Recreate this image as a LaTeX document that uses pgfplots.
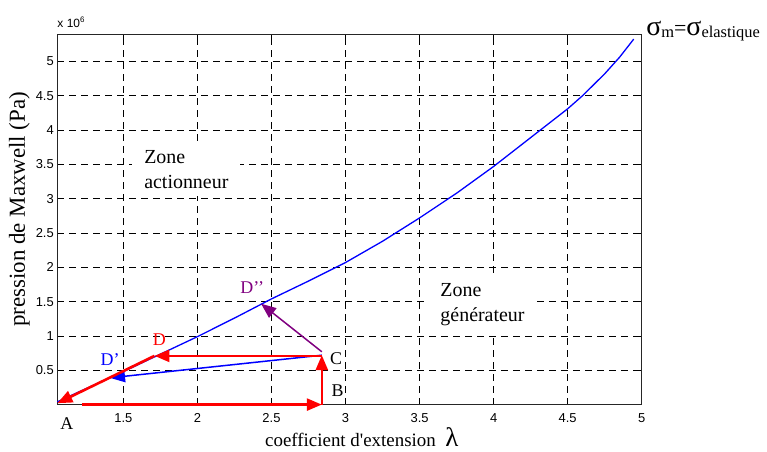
\documentclass[border=0pt]{standalone}
\usepackage{fontspec}
\setmainfont{Liberation Serif}
\setsansfont{Liberation Sans}
\usepackage{pgfplots}
\pgfplotsset{compat=1.18}
\usetikzlibrary{arrows.meta}
\definecolor{mpurple}{RGB}{128,0,128}
\begin{document}
\begin{tikzpicture}
\useasboundingbox (-57.3bp,-47.4bp) rectangle (709.7bp,404.6bp);
\begin{axis}[
  at={(0,0)}, anchor=south west,
  scale only axis, width=584.4bp, height=370.6bp,
  xmin=1.054, xmax=5, ymin=0, ymax=5.4,
  xtick={1.5,2,2.5,3,3.5,4,4.5,5},
  ytick={0.5,1,1.5,2,2.5,3,3.5,4,4.5,5},
  xticklabels={1.5,2,2.5,3,3.5,4,4.5,5},
  yticklabels={0.5,1,1.5,2,2.5,3,3.5,4,4.5,5},
  tick align=inside, major tick length=5bp,
  grid=major,
  major grid style={black, line width=0.7bp, dash pattern=on 6.5bp off 5.5bp},
  axis line style={line width=1bp, black!85},
  tick style={line width=0.8bp, black},
  clip=false,
  /pgf/number format/assume math mode=true,
  ticklabel style={font=\sffamily\fontsize{13}{13}\selectfont},
  xticklabel style={yshift=-5bp},
  xlabel={coefficient d\textquotesingle extension\ \ {\fontsize{27}{27}\selectfont λ}},
  xlabel style={at={(axis description cs:0.521,0)}, anchor=base, yshift=-42bp, font=\fontsize{19}{19}\selectfont, inner sep=0pt},
  ylabel={pression de Maxwell (Pa)},
  ylabel style={at={(axis description cs:-0.0553,0.527)}, anchor=base, font=\fontsize{23}{23}\selectfont, inner sep=0pt},
]
% Maxwell pressure curve (x 10^6 Pa)
\addplot[blue, line width=1.3bp] coordinates {
 (1.054,0.04) (1.25,0.235) (1.41,0.39) (1.5,0.48) (1.71,0.695) (1.75,0.735)
 (2.0,0.99) (2.25,1.26) (2.5,1.54) (2.75,1.80) (3.0,2.07) (3.25,2.38)
 (3.5,2.72) (3.75,3.08) (4.0,3.47) (4.25,3.89) (4.5,4.31) (4.6,4.50)
 (4.75,4.82) (4.85,5.06) (4.946,5.325)
};
% C -> D'
\addplot[blue, line width=1.5bp, -{Triangle[length=15bp,width=12bp]}] coordinates {(2.84,0.72) (1.41,0.39)};
% C -> D''
\addplot[mpurple, line width=1.5bp, -{Triangle[length=15bp,width=12bp]}] coordinates {(2.84,0.77) (2.43,1.47)};
% A -> B -> C -> D -> A
\addplot[red, line width=2.6bp, -{Triangle[length=15bp,width=12bp]}] coordinates {(1.22,0) (2.84,0)};
\addplot[red, line width=2.6bp, -{Triangle[length=15bp,width=12bp]}] coordinates {(2.84,0) (2.84,0.72)};
\addplot[red, line width=2.6bp, -{Triangle[length=15bp,width=12bp]}] coordinates {(2.84,0.71) (1.71,0.71)};
\addplot[red, line width=2.6bp, -{Triangle[length=15bp,width=12bp]}] coordinates {(1.71,0.71) (1.054,0.02)};

\node[font=\fontsize{18}{18}\selectfont] at (axis cs:1.118,-0.28) {A};
\node[font=\fontsize{18}{18}\selectfont] at (axis cs:2.946,0.21) {B};
\node[font=\fontsize{18}{18}\selectfont] at (axis cs:2.937,0.675) {C};
\node[font=\fontsize{18}{18}\selectfont, text=red] at (axis cs:1.743,0.94) {D};
\node[font=\fontsize{18}{18}\selectfont, text=blue] at (axis cs:1.41,0.65) {D’};
\node[font=\fontsize{18}{18}\selectfont, text=mpurple] at (axis cs:2.37,1.70) {D’’};

\node[anchor=west, fill=white, align=left, inner xsep=12bp, inner ysep=7bp, font=\fontsize{20}{25}\selectfont] at (axis cs:1.559,3.42) {Zone\\actionneur};
\node[anchor=west, fill=white, align=left, inner xsep=12bp, inner ysep=7bp, font=\fontsize{20}{25}\selectfont] at (axis cs:3.559,1.46) {Zone\\générateur};

\node[anchor=base west, inner sep=0pt, font=\sffamily\fontsize{12}{12}\selectfont] at ([yshift=7bp]rel axis cs:0,1) {x 10\textsuperscript{6}};
\node[anchor=base west, inner sep=0pt] at ([yshift=-1bp]rel axis cs:1.0075,1)
  {{\fontsize{28}{28}\selectfont σ}\raisebox{-2bp}{\fontsize{16.5}{16.5}\selectfont m}{\fontsize{22}{22}\selectfont =}{\fontsize{28}{28}\selectfont σ}\raisebox{-2bp}{\fontsize{16.5}{16.5}\selectfont elastique}};
\end{axis}
\end{tikzpicture}
\end{document}
